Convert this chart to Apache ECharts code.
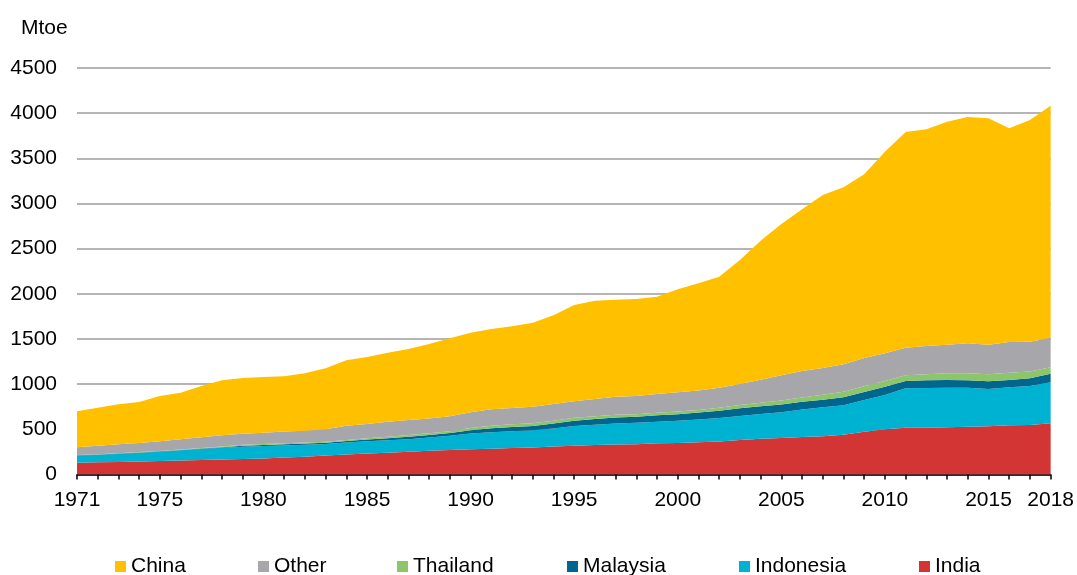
<!DOCTYPE html>
<html>
<head>
<meta charset="utf-8">
<script src="https://cdn.jsdelivr.net/npm/echarts@6/dist/echarts.min.js"></script>
<style>
  html, body { margin: 0; padding: 0; background: #fff; }
  #chart { width: 1077px; height: 575px; }
</style>
</head>
<body>
<div id="chart"></div>
<script>
// years on the x axis
const years = [];
for (let y = 1971; y <= 2018; y++) years.push(String(y));

// years that carry a label
const labelYears = ['1971', '1975', '1980', '1985', '1990', '1995', '2000', '2005', '2010', '2015', '2018'];

// Mtoe (stack order bottom -> top)
const india = [131, 135, 139, 144, 149, 155, 160, 166, 172, 177, 187, 197, 210, 222, 232, 242, 253, 262, 272, 280,
  285, 293, 300, 310, 319, 326, 331, 336, 345, 350, 356, 365, 382, 395, 403, 415, 423, 440, 474, 500,
  518, 518, 522, 529, 533, 544, 548, 567];
const indonesia = [77, 83, 89, 96, 103, 113, 122, 129, 136, 138, 135, 133, 128, 133, 136, 138, 137, 148, 158, 175,
  182, 187, 190, 200, 218, 226, 234, 236, 239, 245, 254, 260, 266, 275, 287, 305, 321, 326, 351, 380,
  436, 440, 439, 432, 413, 421, 432, 454];
const malaysia = [4, 4, 4, 4, 4, 4, 6, 8, 11, 12, 13, 13, 14, 17, 19, 22, 29, 28, 30, 35,
  44, 45, 48, 55, 59, 63, 67, 68, 71, 73, 75, 80, 85, 85, 85, 85, 84, 89, 88, 92,
  81, 85, 85, 82, 86, 81, 85, 95];
const thailand = [3, 3, 4, 4, 4, 5, 5, 7, 11, 11, 11, 11, 10, 10, 13, 16, 18, 18, 20, 25,
  29, 30, 30, 30, 31, 30, 30, 28, 29, 30, 30, 33, 36, 40, 43, 48, 55, 62, 63, 63,
  63, 68, 74, 78, 77, 80, 76, 72];
const other = [86, 93, 99, 102, 107, 113, 119, 125, 120, 124, 129, 131, 138, 158, 160, 167, 166, 164, 165, 175,
  182, 180, 182, 185, 183, 190, 198, 200, 207, 212, 215, 222, 233, 255, 282, 292, 297, 303, 314, 307,
  306, 312, 317, 331, 328, 341, 329, 326];
const china = [399, 422, 442, 453, 502, 516, 568, 608, 618, 617, 612, 635, 676, 724, 740, 763, 786, 825, 862, 880,
  889, 905, 931, 982, 1066, 1089, 1075, 1075, 1077, 1140, 1187, 1230, 1373, 1538, 1673, 1791, 1914, 1959, 2033, 2232,
  2387, 2398, 2469, 2506, 2506, 2365, 2454, 2569];

const seriesDefs = [
  { name: 'India', data: india, color: '#D33534' },
  { name: 'Indonesia', data: indonesia, color: '#00B2D2' },
  { name: 'Malaysia', data: malaysia, color: '#00668E' },
  { name: 'Thailand', data: thailand, color: '#8CC56A' },
  { name: 'Other', data: other, color: '#A7A6AB' },
  { name: 'China', data: china, color: '#FFC000' }
];

// legend items placed one by one like the original
const legendPos = [
  { name: 'China', left: 115 },
  { name: 'Other', left: 258 },
  { name: 'Thailand', left: 397 },
  { name: 'Malaysia', left: 567 },
  { name: 'Indonesia', left: 739 },
  { name: 'India', left: 919 }
];

const font = 'Liberation Sans, Arial, sans-serif';

let myChart = echarts.init(document.getElementById('chart'));
let option = {
  animation: false,
  color: seriesDefs.map(s => s.color),
  title: {
    text: 'Mtoe',
    left: 16,
    top: 13,
    textStyle: { fontFamily: font, fontSize: 21, fontWeight: 'normal', color: '#000' }
  },
  legend: legendPos.map(l => ({
    data: [l.name],
    left: l.left,
    top: 556,
    padding: 0,
    itemWidth: 11,
    itemHeight: 11,
    icon: 'rect',
    itemGap: 0,
    selectedMode: false,
    textStyle: { fontFamily: font, fontSize: 21, color: '#000' }
  })),
  grid: {
    left: 77,
    right: 25,
    top: 68,
    bottom: 100.5,
    containLabel: false
  },
  xAxis: {
    type: 'category',
    boundaryGap: false,
    data: years,
    axisLine: { lineStyle: { color: '#000', width: 1.5 } },
    axisTick: { show: true, interval: 0, length: 5, lineStyle: { color: '#000', width: 1.5 } },
    axisLabel: {
      interval: function (index, value) { return labelYears.indexOf(value) >= 0; },
      margin: 15,
      fontFamily: font,
      fontSize: 21,
      color: '#000'
    },
    splitLine: { show: false }
  },
  yAxis: {
    type: 'value',
    min: 0,
    max: 4500,
    interval: 500,
    axisLine: { show: false },
    axisTick: { show: false },
    axisLabel: {
      margin: 20,
      fontFamily: font,
      fontSize: 21,
      color: '#000',
      formatter: function (v) { return String(v); }
    },
    splitLine: { lineStyle: { color: '#9d9d9d', width: 1.5 } }
  },
  series: seriesDefs.map(s => ({
    name: s.name,
    type: 'line',
    stack: 'total',
    data: s.data,
    symbol: 'none',
    lineStyle: { width: 0 },
    areaStyle: { color: s.color, opacity: 1 },
    itemStyle: { color: s.color },
    z: 2
  }))
};
myChart.setOption(option);
</script>
</body>
</html>
